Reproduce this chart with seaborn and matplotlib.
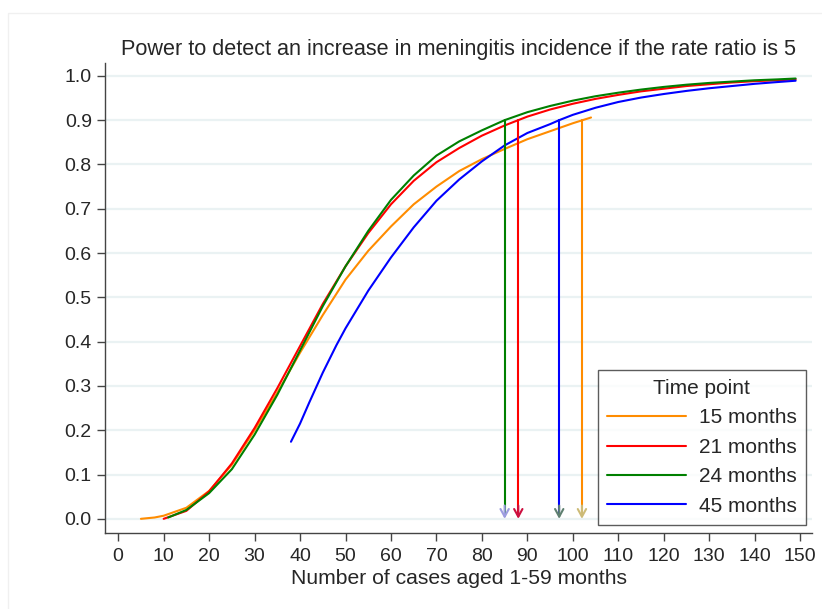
import matplotlib
matplotlib.use("Agg")
import matplotlib.pyplot as plt
from matplotlib.patches import Rectangle
import pandas as pd
import seaborn as sns

# power curves, one per time point
n_15 = [5, 8, 10, 15, 20, 25, 30, 35, 40, 45, 50, 55, 60, 65, 70, 75, 80, 85, 90, 95, 100, 104]
p_15 = [0.0, 0.003, 0.007, 0.025, 0.063, 0.122, 0.2, 0.285, 0.375, 0.46, 0.54, 0.605, 0.66,
        0.71, 0.75, 0.785, 0.812, 0.835, 0.857, 0.875, 0.893, 0.906]

n_21 = [10, 15, 20, 25, 30, 35, 40, 45, 50, 55, 60, 65, 70, 75, 80, 85, 88, 90, 95, 100,
        105, 110, 115, 120, 125, 130, 135, 140, 145, 149]
p_21 = [0.0, 0.018, 0.062, 0.125, 0.205, 0.295, 0.39, 0.485, 0.57, 0.645, 0.71, 0.763, 0.805,
        0.837, 0.865, 0.888, 0.90, 0.908, 0.924, 0.937, 0.948, 0.957, 0.965, 0.971, 0.977,
        0.981, 0.985, 0.988, 0.99, 0.992]

n_24 = [11, 15, 20, 25, 30, 35, 40, 45, 50, 55, 60, 65, 70, 75, 80, 85, 90, 95, 100,
        105, 110, 115, 120, 125, 130, 135, 140, 145, 149]
p_24 = [0.003, 0.02, 0.058, 0.112, 0.19, 0.28, 0.38, 0.48, 0.57, 0.65, 0.72, 0.775, 0.82,
        0.852, 0.877, 0.90, 0.918, 0.932, 0.944, 0.954, 0.962, 0.969, 0.975, 0.98, 0.984,
        0.987, 0.99, 0.992, 0.994]

n_45 = [38, 40, 42, 45, 48, 50, 55, 60, 65, 70, 75, 80, 85, 90, 95, 97, 100, 105, 110, 115,
        120, 125, 130, 135, 140, 145, 149]
p_45 = [0.174, 0.215, 0.262, 0.33, 0.392, 0.43, 0.515, 0.59, 0.658, 0.718, 0.766, 0.807, 0.843,
        0.871, 0.891, 0.90, 0.912, 0.928, 0.941, 0.951, 0.959, 0.966, 0.972, 0.977, 0.982,
        0.986, 0.989]

time_points = ["15 months", "21 months", "24 months", "45 months"]
cases_at_90 = [102, 88, 85, 97]   # where each curve reaches 90% power

colors = ["#FF8C00", "#FF0000", "#008000", "#0000FF"]
head_colors = ["#CDBB77", "#CC1040", "#9C9CE0", "#5F8070"]

frames = []
for tp, n, p in zip(time_points, [n_15, n_21, n_24, n_45], [p_15, p_21, p_24, p_45]):
    frames.append(pd.DataFrame({"cases": n, "power": p, "Time point": tp}))
df = pd.concat(frames, ignore_index=True)

sns.set_style("white")
plt.rcParams["font.family"] = ["Liberation Sans", "DejaVu Sans"]

fig = plt.figure(figsize=(8.22, 6.09), dpi=100)
ax = fig.add_axes([105 / 822, 1 - 533 / 609, 707 / 822, 470 / 609])

for y in [i / 10 for i in range(11)]:
    ax.axhline(y, color="#EAF2F3", lw=1.6, zorder=0)

sns.lineplot(data=df, x="cases", y="power", hue="Time point", hue_order=time_points,
             palette=colors, lw=1.5, ax=ax, sort=False)

for x, c, hc in zip(cases_at_90, colors, head_colors):
    ax.plot([x, x], [0.9, 0.006], color=c, lw=1.5)
    ax.annotate("", xy=(x, 0.0), xytext=(x, 0.03),
                arrowprops=dict(arrowstyle="->,head_length=0.55,head_width=0.3",
                                color=hc, lw=1.5, shrinkA=0, shrinkB=0))

ax.set_xlim(-2.9, 152.6)
ax.set_ylim(-0.032, 1.029)
ax.set_xticks(range(0, 151, 10))
ax.set_yticks([i / 10 for i in range(11)])
ax.set_yticklabels([f"{i / 10:.1f}" for i in range(11)])
ax.tick_params(axis="both", labelsize=14, length=5.5, width=1, color="#444444",
               direction="out", left=True, bottom=True)
ax.tick_params(axis="x", pad=5)
ax.tick_params(axis="y", pad=4)
for side in ["top", "right"]:
    ax.spines[side].set_visible(False)
for side in ["left", "bottom"]:
    ax.spines[side].set_color("#444444")
    ax.spines[side].set_linewidth(1)

ax.set_title("Power to detect an increase in meningitis incidence if the rate ratio is 5",
             fontsize=15.6, pad=6)
ax.set_xlabel("Number of cases aged 1-59 months", fontsize=15.2, labelpad=3)
ax.set_ylabel("")

leg = ax.legend(title="Time point", loc="lower right", bbox_to_anchor=(0.9915, 0.017),
                borderaxespad=0, fontsize=15, title_fontsize=15, handlelength=3.8,
                handletextpad=0.6, labelspacing=0.5, fancybox=False, frameon=True,
                borderpad=0.45)
leg.get_frame().set_edgecolor("#333333")
leg.get_frame().set_linewidth(1)
for line in leg.get_lines():
    line.set_linewidth(1.5)

fig.add_artist(Rectangle((8 / 822, -0.05), 1.1, 1 - 13 / 609 + 0.05, transform=fig.transFigure,
                         fill=False, edgecolor="#F0F0F0", lw=1))

fig.savefig("out.png", dpi=100, facecolor="white")
